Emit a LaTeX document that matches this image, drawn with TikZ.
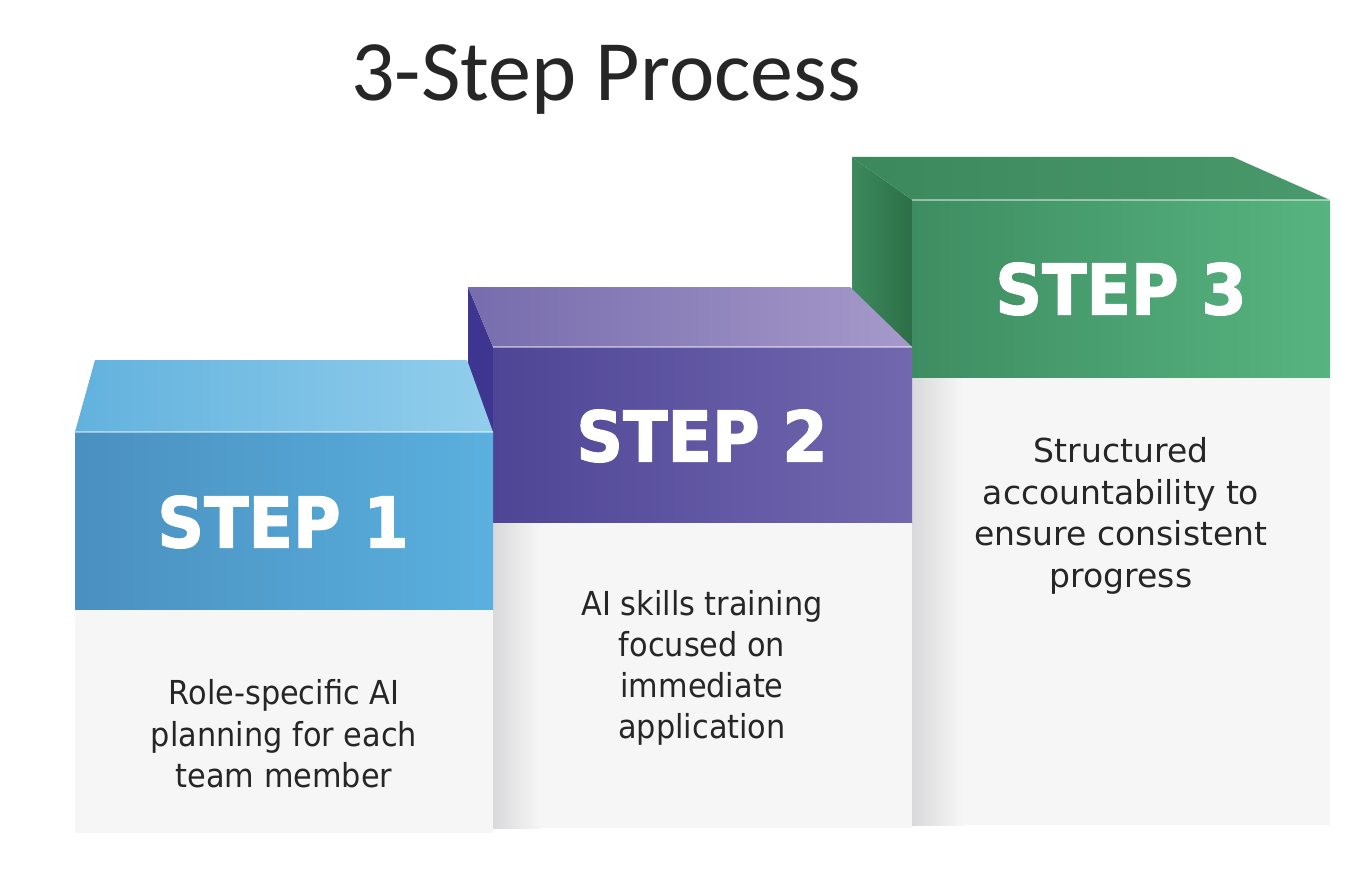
\documentclass[tikz,border=0pt]{standalone}
\usepackage{fontspec}
\setmainfont{DejaVu Sans}
\newfontfamily\titlefont{Carlito}
\newfontfamily\stepfont[FakeStretch=0.93,FakeBold=1.6]{DejaVu Sans}
\newfontfamily\condfont[FakeStretch=0.92]{DejaVu Sans}
\definecolor{bluefrontL}{HTML}{4A90C0}
\definecolor{bluefrontR}{HTML}{5AB0DE}
\definecolor{bluetopL}{HTML}{62B2DE}
\definecolor{bluetopR}{HTML}{92CEEC}
\definecolor{purfrontL}{HTML}{4E4596}
\definecolor{purfrontR}{HTML}{7268AF}
\definecolor{purtopL}{HTML}{776CAD}
\definecolor{purtopR}{HTML}{A699CA}
\definecolor{purside}{HTML}{3E3590}
\definecolor{grnfrontL}{HTML}{3E8D62}
\definecolor{grnfrontR}{HTML}{57B480}
\definecolor{grntopL}{HTML}{3C885D}
\definecolor{grntopR}{HTML}{48996B}
\definecolor{grnsideL}{HTML}{3D8A5E}
\definecolor{grnsideR}{HTML}{2C6E47}
\definecolor{panel}{HTML}{F6F6F6}
\definecolor{panelshade}{HTML}{D9D9DB}
\definecolor{txt}{HTML}{262626}
\tikzset{
  steplabel/.style={text=white, font=\stepfont\bfseries\fontsize{70}{80}\selectfont, anchor=center},
  desc/.style={text=txt, align=center, anchor=center},
  ridge/.style={draw=white, draw opacity=0.45, line width=1.2pt}
}
\begin{document}
\begin{tikzpicture}[x=1pt,y=-1pt]
\useasboundingbox[fill=white] (0,0) rectangle (1358,880);

% title
\node[text=txt, font=\titlefont\fontsize{86}{96}\selectfont, anchor=center] (title) at (606,80) {3-Step Process};

% ---------- STEP 3 ----------
\shade[left color=grnsideL, right color=grnsideR] (852,157) -- (912,200) -- (912,378) -- (852,335) -- cycle;
\shade[left color=grntopL, right color=grntopR] (852,157) -- (1233,157) -- (1330,200) -- (912,200) -- cycle;
\shade[left color=grnfrontL, right color=grnfrontR] (912,200) rectangle (1330,378);
\draw[ridge] (912,200) -- (1330,200);
\fill[panel] (912,378) rectangle (1330,825);
\shade[left color=panelshade, right color=panel] (912,378) rectangle (962,825);
\node[steplabel] (s3) at (1121,289) {STEP 3};
\node[desc, font=\fontsize{33}{41.5}\selectfont] (d3) at (1121,516) {Structured\\accountability to\\ensure consistent\\progress};

% ---------- STEP 2 ----------
\fill[purside] (468,287) -- (493,347) -- (493,523) -- (468,463) -- cycle;
\shade[left color=purtopL, right color=purtopR] (468,287) -- (850,287) -- (912,347) -- (493,347) -- cycle;
\shade[left color=purfrontL, right color=purfrontR] (493,347) rectangle (912,523);
\draw[ridge] (493,347) -- (912,347);
\fill[panel] (493,523) rectangle (912,828);
\shade[left color=panelshade, right color=panel] (493,523) rectangle (540,828);
\node[steplabel] (s2) at (702,436) {STEP 2};
\node[desc, font=\condfont\fontsize{33}{41}\selectfont] (d2) at (702,668) {AI skills training\\focused on\\immediate\\application};

% ---------- STEP 1 ----------
\shade[left color=bluetopL, right color=bluetopR] (95,360) -- (467,360) -- (493,432) -- (75,432) -- cycle;
\shade[left color=bluefrontL, right color=bluefrontR] (75,432) rectangle (493,610);
\draw[ridge] (75,432) -- (493,432);
\fill[panel] (75,610) rectangle (493,833);
\node[steplabel] (s1) at (283,522) {STEP 1};
\node[desc, font=\condfont\fontsize{33}{41.5}\selectfont] (d1) at (284,734) {Role-specific AI\\planning for each\\team member};
\end{tikzpicture}
\end{document}
